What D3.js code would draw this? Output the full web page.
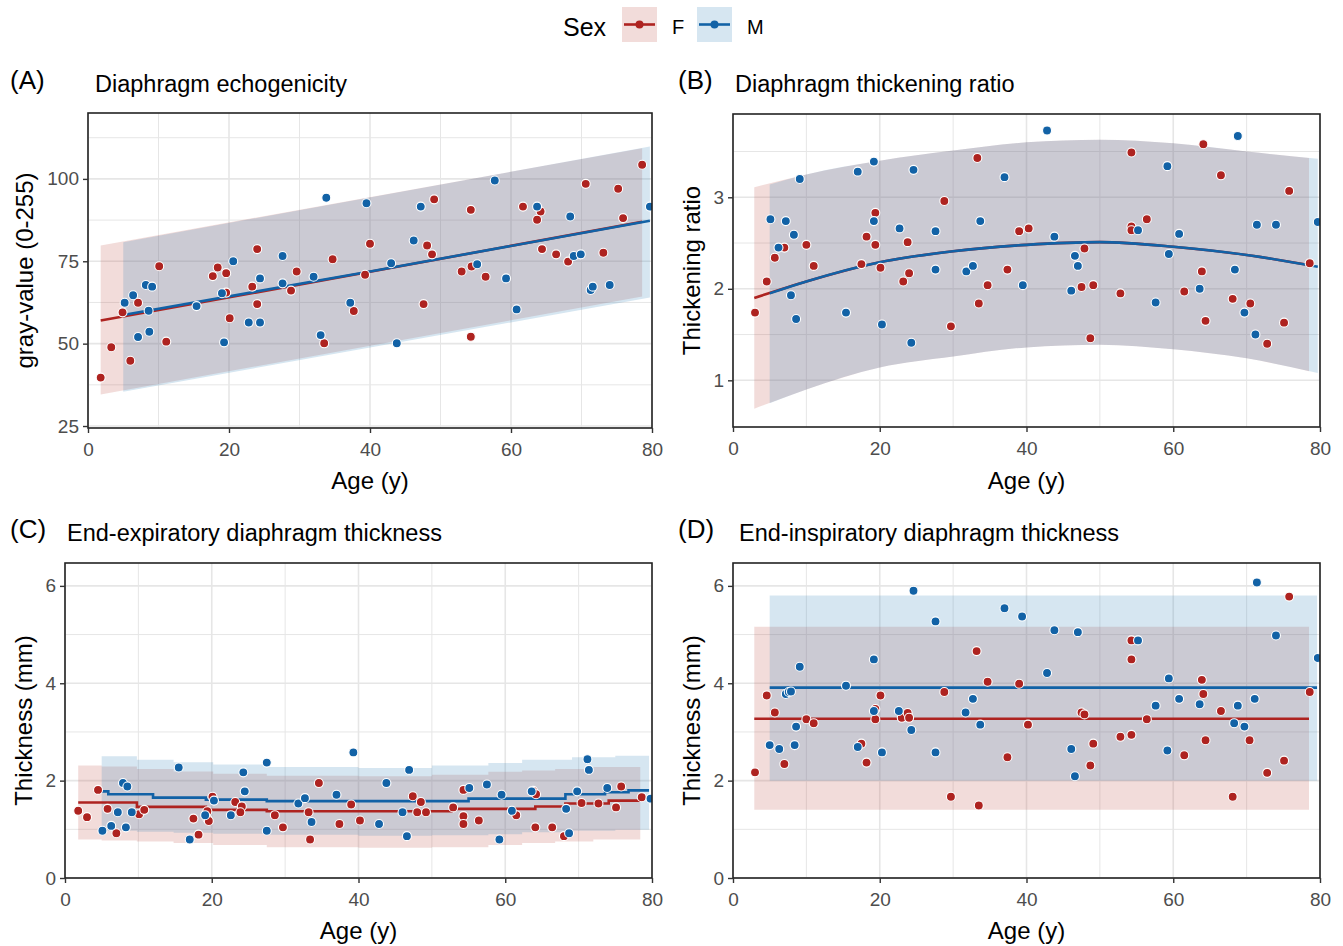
<!DOCTYPE html>
<html>
<head>
<meta charset="utf-8">
<script src="https://cdn.jsdelivr.net/npm/d3@7"></script>
<style>
  body { margin: 0; background: #fff; }
  svg { font-family: "Liberation Sans", Arial, sans-serif; }
</style>
</head>
<body>
<svg id="chart" width="1343" height="946"></svg>
<script>
// ---- data ----
var sexes = ['F', 'M']
var xTicks = [0, 20, 40, 60, 80]
var xMinor = [10, 30, 50, 70]

// (A) echogenicity, [age, gray value]
var echoF = [[1.8,39.7],[3.3,48.9],[4.9,59.5],[6.0,44.8],[7.1,62.4],[10.1,73.5],[11.1,50.6],[17.7,70.5],[18.4,73.1],[19.6,71.4],[19.6,65.5],[20.1,57.7],[23.3,67.3],[24.0,78.7],[24.0,62.0],[28.8,66.1],[29.6,71.9],[33.5,50.1],[34.7,75.6],[37.7,59.9],[39.3,70.9],[40.0,80.3],[47.6,62.0],[48.1,79.8],[48.8,77.1],[49.1,93.8],[53.0,71.9],[54.3,90.6],[54.4,73.4],[54.3,52.1],[56.4,70.3],[61.7,91.6],[64.2,90.1],[63.7,87.6],[64.4,78.7],[66.4,77.1],[68.1,74.9],[70.6,98.5],[73.1,77.6],[75.2,97.0],[75.9,88.1],[78.6,104.3]]
var echoM = [[5.2,62.4],[6.4,64.7],[7.1,52.0],[8.2,67.8],[9.1,67.3],[8.6,60.0],[8.7,53.6],[15.4,61.4],[19.0,65.3],[19.3,50.4],[20.6,75.0],[22.8,56.4],[24.4,69.8],[24.4,56.4],[27.6,76.6],[27.6,68.3],[32.0,70.3],[33.0,52.6],[33.8,94.3],[37.2,62.4],[39.5,92.6],[43.8,50.1],[43.0,74.4],[46.2,81.3],[47.2,91.6],[55.2,74.1],[57.7,99.5],[59.3,69.8],[60.8,60.4],[63.7,91.6],[68.4,88.6],[68.9,76.6],[69.9,77.1],[71.3,66.3],[71.6,67.3],[74.0,67.8],[79.7,91.6]]
var echoFitF = [[1.8,57.0],[40,71.8],[78.6,87.0]]
var echoFitM = [[5.0,58.7],[40,71.9],[79.7,87.3]]
// [age, lower, upper]
var echoBandF = [[1.8,34.6,79.8],[78.6,64.3,109.3]]
var echoBandM = [[5.0,35.4,80.8],[79.7,64.0,109.8]]

// (B) thickening ratio
var ratioF = [[3.0,1.74],[4.6,2.08],[5.7,2.34],[7.0,2.45],[10.0,2.48],[11.0,2.25],[17.5,2.27],[18.2,2.57],[19.4,2.83],[19.4,2.48],[20.1,2.23],[23.2,2.08],[23.8,2.51],[24.0,2.17],[28.8,2.96],[29.7,1.59],[33.3,3.43],[33.5,1.84],[34.7,2.04],[37.4,2.21],[39.0,2.63],[40.3,2.66],[47.5,2.02],[47.9,2.44],[49.1,2.04],[48.7,1.46],[52.8,1.95],[54.3,3.49],[54.3,2.68],[54.3,2.64],[56.4,2.76],[61.5,1.97],[63.9,2.19],[64.1,3.58],[64.4,1.65],[66.5,3.24],[68.1,1.89],[70.5,1.84],[72.8,1.40],[75.1,1.63],[75.8,3.07],[78.6,2.28]]
var ratioM = [[5.1,2.76],[6.2,2.45],[7.2,2.74],[7.9,1.93],[8.3,2.59],[8.6,1.67],[9.1,3.20],[15.4,1.74],[17.0,3.28],[19.2,3.39],[19.2,2.74],[20.3,1.61],[22.7,2.66],[24.6,3.30],[24.3,1.41],[27.6,2.63],[27.6,2.21],[31.8,2.19],[32.7,2.25],[33.7,2.74],[37.0,3.22],[39.5,2.04],[42.8,3.73],[43.8,2.57],[46.6,2.36],[47.0,2.25],[46.1,1.98],[55.2,2.64],[57.6,1.85],[59.2,3.34],[59.4,2.38],[60.8,2.60],[63.6,2.00],[68.4,2.21],[68.8,3.67],[69.7,1.74],[71.2,1.50],[71.4,2.70],[74.0,2.70],[79.7,2.73]]
var ratioFitF = [[2.9,1.90],[10,2.08],[20,2.29],[30,2.41],[40,2.48],[50,2.51],[60,2.46],[70,2.37],[78.5,2.26]]
var ratioFitM = [[5.0,1.95],[10,2.08],[20,2.29],[30,2.41],[40,2.48],[50,2.51],[60,2.46],[70,2.37],[79.7,2.24]]
var ratioBandF = [[2.9,0.69,3.11],[10,0.90,3.25],[20,1.14,3.40],[30,1.26,3.51],[40,1.36,3.60],[50,1.39,3.63],[60,1.34,3.59],[70,1.24,3.50],[78.5,1.10,3.43]]
var ratioBandM = [[5.0,0.75,3.14],[10,0.90,3.25],[20,1.14,3.40],[30,1.26,3.51],[40,1.36,3.60],[50,1.39,3.63],[60,1.34,3.59],[70,1.24,3.50],[79.7,1.08,3.42]]

// (C) end-expiratory thickness, mm
var expF = [[1.8,1.38],[3.0,1.25],[4.5,1.81],[5.8,1.42],[7.0,0.92],[10.1,1.31],[10.8,1.40],[17.5,1.22],[18.2,0.89],[19.4,1.37],[19.4,1.22],[19.6,1.17],[20.1,1.67],[23.2,1.56],[24.1,1.47],[23.9,1.35],[28.6,1.29],[29.7,1.04],[33.2,1.35],[33.4,0.79],[34.6,1.95],[37.4,1.11],[39.0,1.51],[40.2,1.18],[47.4,1.68],[48.0,1.35],[48.5,1.56],[49.2,1.35],[52.9,1.45],[54.3,1.81],[54.3,1.27],[54.3,1.11],[56.4,1.18],[61.5,1.29],[63.8,1.79],[64.2,1.72],[64.1,1.04],[66.4,1.04],[68.0,0.86],[70.4,1.54],[72.7,1.53],[75.1,1.45],[75.8,1.88],[78.6,1.66]]
var expM = [[5.1,0.97],[6.3,1.07],[7.2,1.35],[7.9,1.95],[8.5,1.88],[8.3,1.04],[9.1,1.35],[15.5,2.27],[17.0,0.79],[19.1,1.29],[20.3,1.59],[22.6,1.29],[24.3,2.17],[24.5,1.78],[27.5,2.37],[27.5,0.97],[31.8,1.53],[32.7,1.64],[33.6,1.15],[37.0,1.71],[39.3,2.58],[42.8,1.11],[43.8,1.95],[46.0,1.35],[46.6,0.86],[46.9,2.22],[55.1,1.85],[57.5,1.92],[59.2,0.79],[59.5,1.71],[60.9,1.38],[63.6,1.78],[68.7,0.92],[68.3,1.42],[69.8,1.78],[71.2,2.44],[71.4,2.22],[73.9,1.85],[79.8,1.63]]
var expFitF = [[1.8,1.55],[9.8,1.46],[19.2,1.40],[27.5,1.37],[52.7,1.42],[64.1,1.47],[68.2,1.53],[74.1,1.59],[78.2,1.68],[78.6,1.68]]
var expFitM = [[5.0,1.78],[5.9,1.72],[12.0,1.65],[19.2,1.61],[27.5,1.58],[55.0,1.63],[68.2,1.72],[73.6,1.76],[76.8,1.80],[79.6,1.80]]
var expBandF = [[1.8,0.79,2.31],[5.0,0.77,2.29],[9.8,0.75,2.24],[14.8,0.72,2.19],[20.2,0.68,2.14],[27.5,0.63,2.10],[40,0.62,2.09],[50,0.63,2.12],[57.7,0.68,2.18],[62.3,0.72,2.21],[66.8,0.75,2.24],[72,0.79,2.28],[78.4,0.82,2.31]]
var expBandM = [[5.0,0.97,2.50],[9.8,0.95,2.43],[14.8,0.93,2.38],[20.2,0.91,2.33],[27.5,0.89,2.28],[40,0.87,2.26],[50,0.88,2.31],[57.7,0.90,2.36],[62.3,0.94,2.43],[69.1,0.97,2.48],[75,0.99,2.51],[79.6,1.01,2.54]]

// (D) end-inspiratory thickness, mm
var insF = [[3.0,2.17],[4.6,3.75],[5.7,3.40],[7.0,2.34],[10.0,3.26],[11.0,3.18],[17.5,2.76],[18.2,2.37],[19.4,3.47],[19.4,3.26],[20.1,3.75],[23.0,3.29],[23.8,3.39],[24.0,3.29],[28.8,3.82],[29.7,1.67],[33.2,4.66],[33.5,1.49],[34.7,4.03],[37.4,2.48],[39.0,3.99],[40.2,3.15],[47.5,3.40],[47.9,3.36],[48.7,2.31],[49.1,2.76],[52.8,2.90],[54.3,2.94],[54.3,4.88],[54.3,4.49],[56.4,3.26],[61.5,2.52],[63.9,4.07],[64.1,3.78],[64.4,2.83],[66.5,3.43],[68.1,1.67],[70.4,2.83],[72.8,2.16],[75.1,2.41],[75.8,5.78],[78.6,3.82]]
var insM = [[5.0,2.73],[6.3,2.65],[7.2,3.78],[7.6,3.82],[7.9,3.83],[8.4,2.73],[8.6,3.11],[9.1,4.34],[15.4,3.95],[17.0,2.69],[19.2,4.49],[19.2,3.43],[20.3,2.58],[22.6,3.43],[24.6,5.90],[24.3,3.04],[27.6,5.27],[27.6,2.58],[31.7,3.40],[32.7,3.68],[33.7,3.15],[37.0,5.54],[39.4,5.37],[42.8,4.21],[43.8,5.09],[46.1,2.65],[46.6,2.09],[47.0,5.05],[55.2,4.88],[57.6,3.54],[59.2,2.62],[59.4,4.10],[60.8,3.68],[63.6,3.57],[68.3,3.18],[68.8,3.54],[69.7,3.11],[71.1,3.68],[71.4,6.07],[74.0,4.98],[79.7,4.52]]
var insFitF = [[2.9,3.27],[78.5,3.27]]
var insFitM = [[5.0,3.91],[79.6,3.91]]
var insBandF = [[2.9,1.40,5.16],[78.5,1.40,5.16]]
var insBandM = [[5.0,2.00,5.80],[79.6,2.00,5.80]]

var colors = { F: '#AE2320', M: '#1262A6' }
var bandColors = { F: '#BE5046', M: '#3282B9' }

var panels = [
  { tag: '(A)', title: 'Diaphragm echogenicity', ytitle: 'gray-value (0-255)',
    left: 88, right: 652, top: 113, bottom: 428, yDomain: [24.4, 120],
    yTicks: [25, 50, 75, 100], yMinor: [37.5, 62.5, 87.5, 112.5],
    pts: { F: echoF, M: echoM }, fit: { F: echoFitF, M: echoFitM }, band: { F: echoBandF, M: echoBandM },
    curve: d3.curveLinear, tagX: 10, titleX: 95, ytX: 33, row: 0 },
  { tag: '(B)', title: 'Diaphragm thickening ratio', ytitle: 'Thickening ratio',
    left: 733, right: 1320, top: 114, bottom: 427, yDomain: [0.49, 3.91],
    yTicks: [1, 2, 3], yMinor: [1.5, 2.5, 3.5],
    pts: { F: ratioF, M: ratioM }, fit: { F: ratioFitF, M: ratioFitM }, band: { F: ratioBandF, M: ratioBandM },
    curve: d3.curveMonotoneX, tagX: 678, titleX: 735, ytX: 700, row: 0 },
  { tag: '(C)', title: 'End-expiratory diaphragm thickness', ytitle: 'Thickness (mm)',
    left: 65, right: 652, top: 563, bottom: 878, yDomain: [0, 6.47],
    yTicks: [0, 2, 4, 6], yMinor: [1, 3, 5],
    pts: { F: expF, M: expM }, fit: { F: expFitF, M: expFitM }, band: { F: expBandF, M: expBandM },
    curve: d3.curveStepAfter, tagX: 10, titleX: 67, ytX: 32, row: 1 },
  { tag: '(D)', title: 'End-inspiratory diaphragm thickness', ytitle: 'Thickness (mm)',
    left: 733, right: 1320, top: 563, bottom: 878, yDomain: [0, 6.47],
    yTicks: [0, 2, 4, 6], yMinor: [1, 3, 5],
    pts: { F: insF, M: insM }, fit: { F: insFitF, M: insFitM }, band: { F: insBandF, M: insBandM },
    curve: d3.curveStepAfter, tagX: 678, titleX: 739, ytX: 700, row: 1 }
]

var svg = d3.select('#chart')

function drawPanel(p, i) {
  var x = d3.scaleLinear().domain([0, 80]).range([p.left, p.right])
  var y = d3.scaleLinear().domain(p.yDomain).range([p.bottom, p.top])
  var g = svg.append('g')
  var titleY = p.row === 0 ? 92 : 541

  g.append('text').attr('x', p.tagX).attr('y', titleY - 3)
    .attr('font-size', 26).text(p.tag)
  g.append('text').attr('x', p.titleX).attr('y', titleY)
    .attr('font-size', 23.5).text(p.title)

  // grid
  var grid = g.append('g').attr('stroke', '#e6e6e6')
  grid.selectAll('.ymin').data(p.yMinor).enter().append('line')
    .attr('x1', p.left).attr('x2', p.right).attr('y1', y).attr('y2', y).attr('stroke-width', 1)
  grid.selectAll('.xmin').data(xMinor).enter().append('line')
    .attr('y1', p.top).attr('y2', p.bottom).attr('x1', x).attr('x2', x).attr('stroke-width', 1)
  grid.selectAll('.ymaj').data(p.yTicks).enter().append('line')
    .attr('x1', p.left).attr('x2', p.right).attr('y1', y).attr('y2', y).attr('stroke-width', 1.6)
  grid.selectAll('.xmaj').data(xTicks).enter().append('line')
    .attr('y1', p.top).attr('y2', p.bottom).attr('x1', x).attr('x2', x).attr('stroke-width', 1.6)

  var clipId = 'clip' + i
  svg.append('clipPath').attr('id', clipId).append('rect')
    .attr('x', p.left).attr('y', p.top).attr('width', p.right - p.left).attr('height', p.bottom - p.top)
  var plot = g.append('g').attr('clip-path', 'url(#' + clipId + ')')

  var area = d3.area().curve(p.curve)
    .x(function (d) { return x(d[0]) })
    .y0(function (d) { return y(d[1]) })
    .y1(function (d) { return y(d[2]) })
  var line = d3.line().curve(p.curve)
    .x(function (d) { return x(d[0]) })
    .y(function (d) { return y(d[1]) })

  sexes.forEach(function (s) {
    plot.append('path').attr('d', area(p.band[s]))
      .attr('fill', bandColors[s]).attr('fill-opacity', 0.2)
  })
  sexes.forEach(function (s) {
    plot.append('path').attr('d', line(p.fit[s]))
      .attr('fill', 'none').attr('stroke', colors[s]).attr('stroke-width', 2.6)
  })
  sexes.forEach(function (s) {
    plot.selectAll('.pt' + s).data(p.pts[s]).enter().append('circle')
      .attr('cx', function (d) { return x(d[0]) })
      .attr('cy', function (d) { return y(d[1]) })
      .attr('r', 4.5)
      .attr('fill', colors[s])
      .attr('stroke', '#fff').attr('stroke-width', 1.1)
  })

  // border
  g.append('rect').attr('x', p.left).attr('y', p.top)
    .attr('width', p.right - p.left).attr('height', p.bottom - p.top)
    .attr('fill', 'none').attr('stroke', '#222').attr('stroke-width', 1.6)

  // axes
  var xa = g.append('g').attr('transform', 'translate(0,' + p.bottom + ')')
    .call(d3.axisBottom(x).tickValues(xTicks).tickSize(5).tickPadding(10).tickFormat(d3.format('d')))
  var ya = g.append('g').attr('transform', 'translate(' + p.left + ',0)')
    .call(d3.axisLeft(y).tickValues(p.yTicks).tickSize(5).tickPadding(4).tickFormat(d3.format('d')))
  ;[xa, ya].forEach(function (a) {
    a.select('.domain').remove()
    a.selectAll('.tick line').attr('stroke', '#333').attr('stroke-width', 1.4)
    a.selectAll('.tick text').attr('fill', '#4d4d4d').attr('font-size', 19)
      .attr('font-family', '"Liberation Sans", Arial, sans-serif')
  })

  g.append('text').attr('x', (p.left + p.right) / 2).attr('y', p.row === 0 ? 489 : 939)
    .attr('text-anchor', 'middle').attr('font-size', 24).text('Age (y)')
  g.append('text')
    .attr('transform', 'translate(' + p.ytX + ',' + (p.top + p.bottom) / 2 + ') rotate(-90)')
    .attr('text-anchor', 'middle').attr('font-size', 24).text(p.ytitle)
}

panels.forEach(drawPanel)

// legend
var leg = svg.append('g')
leg.append('text').attr('x', 563).attr('y', 36).attr('font-size', 25).text('Sex')
var keyX = { F: 622, M: 697 }
sexes.forEach(function (s) {
  var k = leg.append('g').attr('transform', 'translate(' + keyX[s] + ',7)')
  k.append('rect').attr('width', 35).attr('height', 35)
    .attr('fill', bandColors[s]).attr('fill-opacity', 0.2)
  k.append('line').attr('x1', 2).attr('x2', 33).attr('y1', 17.5).attr('y2', 17.5)
    .attr('stroke', colors[s]).attr('stroke-width', 2.6)
  k.append('circle').attr('cx', 17.5).attr('cy', 17.5).attr('r', 4).attr('fill', colors[s])
  leg.append('text').attr('x', keyX[s] + 50).attr('y', 34).attr('font-size', 20).text(s)
})
</script>
</body>
</html>
